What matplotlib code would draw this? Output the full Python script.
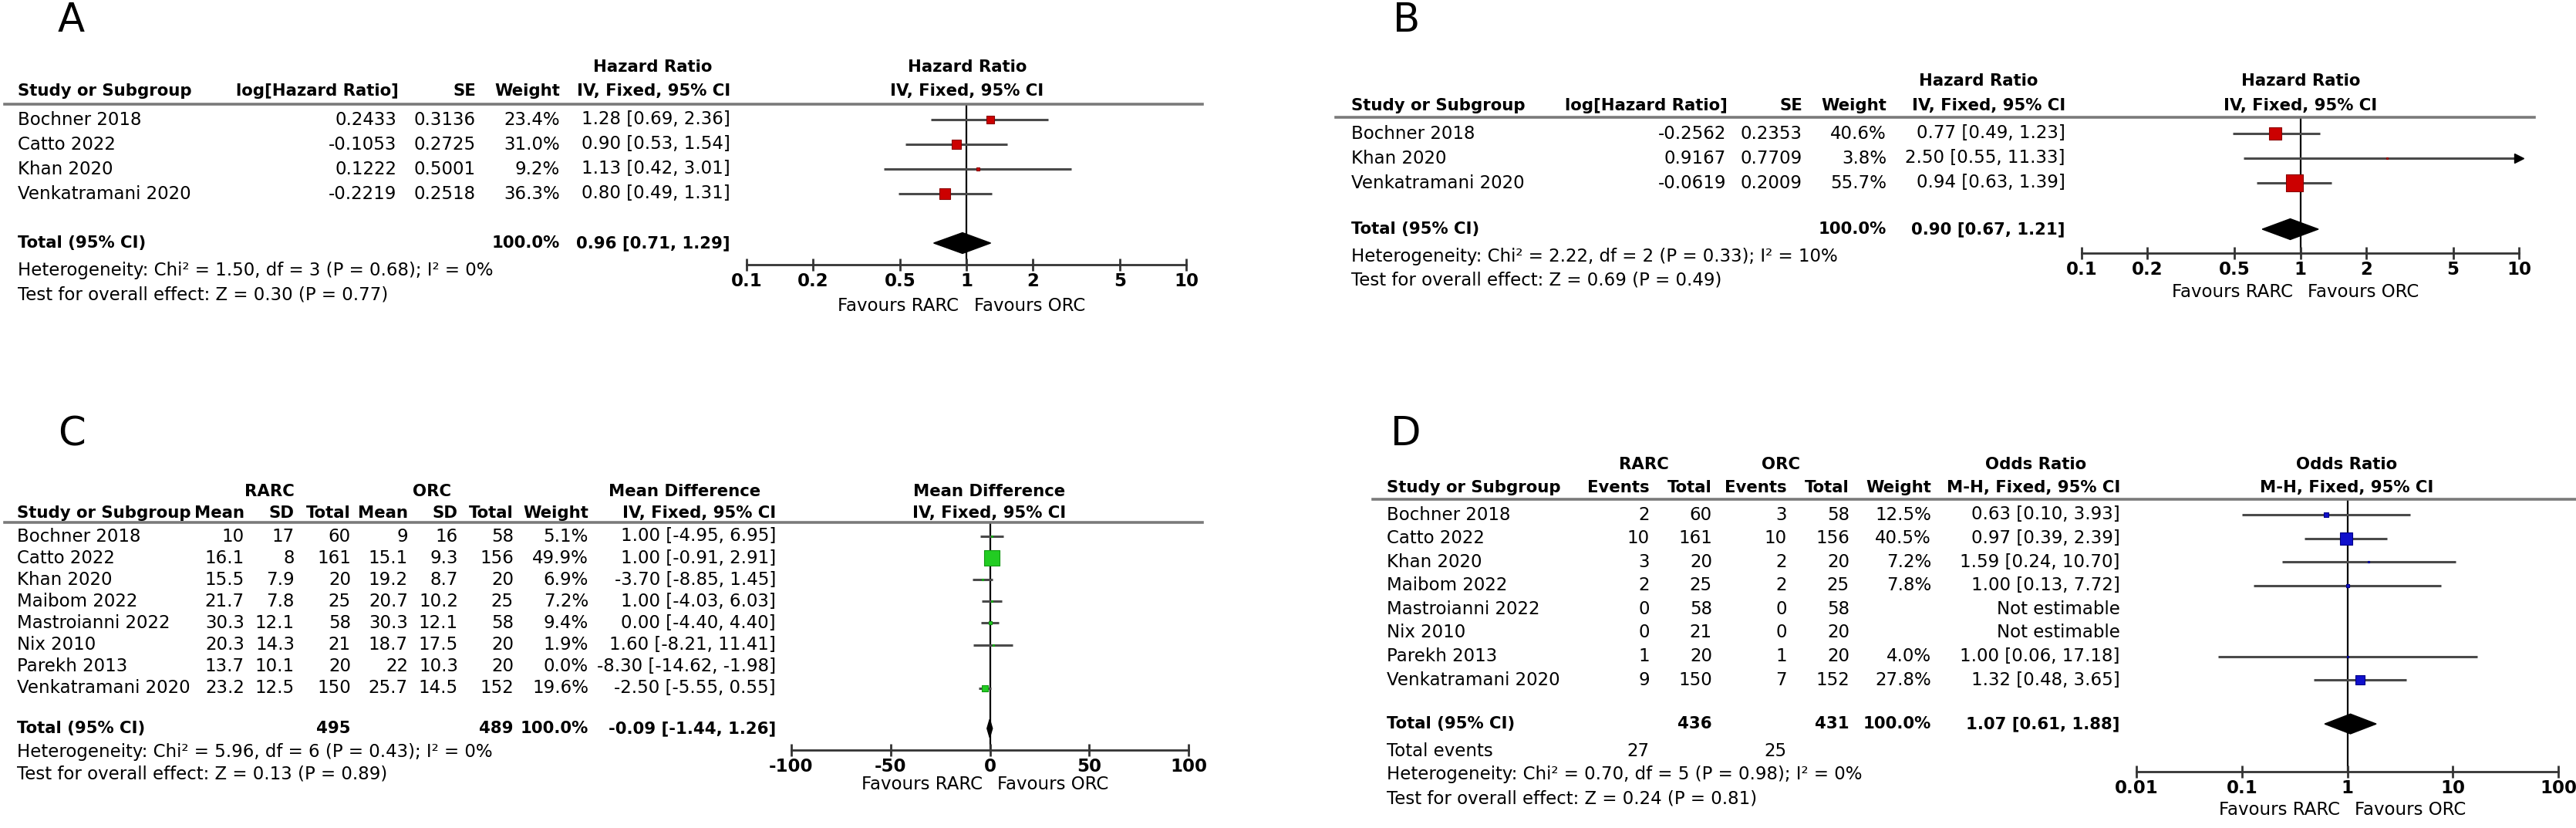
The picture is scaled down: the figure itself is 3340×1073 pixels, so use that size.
import matplotlib
matplotlib.use("Agg")
import matplotlib.pyplot as plt
from matplotlib.transforms import blended_transform_factory, offset_copy
from matplotlib.lines import Line2D
from matplotlib.ticker import NullLocator, FixedLocator

# ---------------- data ----------------
# A: hazard ratio
A_studies = ["Bochner 2018", "Catto 2022", "Khan 2020", "Venkatramani 2020"]
A_loghr = [0.2433, -0.1053, 0.1222, -0.2219]
A_se = [0.3136, 0.2725, 0.5001, 0.2518]
A_weight = [23.4, 31.0, 9.2, 36.3]
A_est = [1.28, 0.90, 1.13, 0.80]
A_lo = [0.69, 0.53, 0.42, 0.49]
A_hi = [2.36, 1.54, 3.01, 1.31]
A_total = [0.96, 0.71, 1.29]
A_het = "Heterogeneity: Chi² = 1.50, df = 3 (P = 0.68); I² = 0%"
A_test = "Test for overall effect: Z = 0.30 (P = 0.77)"

# B: hazard ratio
B_studies = ["Bochner 2018", "Khan 2020", "Venkatramani 2020"]
B_loghr = [-0.2562, 0.9167, -0.0619]
B_se = [0.2353, 0.7709, 0.2009]
B_weight = [40.6, 3.8, 55.7]
B_est = [0.77, 2.50, 0.94]
B_lo = [0.49, 0.55, 0.63]
B_hi = [1.23, 11.33, 1.39]
B_total = [0.90, 0.67, 1.21]
B_het = "Heterogeneity: Chi² = 2.22, df = 2 (P = 0.33); I² = 10%"
B_test = "Test for overall effect: Z = 0.69 (P = 0.49)"

# C: mean difference
C_studies = ["Bochner 2018", "Catto 2022", "Khan 2020", "Maibom 2022",
             "Mastroianni 2022", "Nix 2010", "Parekh 2013", "Venkatramani 2020"]
C_rarc_mean = [10, 16.1, 15.5, 21.7, 30.3, 20.3, 13.7, 23.2]
C_rarc_sd = [17, 8, 7.9, 7.8, 12.1, 14.3, 10.1, 12.5]
C_rarc_n = [60, 161, 20, 25, 58, 21, 20, 150]
C_orc_mean = [9, 15.1, 19.2, 20.7, 30.3, 18.7, 22, 25.7]
C_orc_sd = [16, 9.3, 8.7, 10.2, 12.1, 17.5, 10.3, 14.5]
C_orc_n = [58, 156, 20, 25, 58, 20, 20, 152]
C_weight = [5.1, 49.9, 6.9, 7.2, 9.4, 1.9, 0.0, 19.6]
C_est = [1.00, 1.00, -3.70, 1.00, 0.00, 1.60, -8.30, -2.50]
C_lo = [-4.95, -0.91, -8.85, -4.03, -4.40, -8.21, -14.62, -5.55]
C_hi = [6.95, 2.91, 1.45, 6.03, 4.40, 11.41, -1.98, 0.55]
C_total = [-0.09, -1.44, 1.26]
C_total_n = [495, 489]
C_het = "Heterogeneity: Chi² = 5.96, df = 6 (P = 0.43); I² = 0%"
C_test = "Test for overall effect: Z = 0.13 (P = 0.89)"

# D: odds ratio
D_studies = C_studies
D_rarc_ev = [2, 10, 3, 2, 0, 0, 1, 9]
D_rarc_n = [60, 161, 20, 25, 58, 21, 20, 150]
D_orc_ev = [3, 10, 2, 2, 0, 0, 1, 7]
D_orc_n = [58, 156, 20, 25, 58, 20, 20, 152]
D_weight = [12.5, 40.5, 7.2, 7.8, None, None, 4.0, 27.8]
D_est = [0.63, 0.97, 1.59, 1.00, None, None, 1.00, 1.32]
D_lo = [0.10, 0.39, 0.24, 0.13, None, None, 0.06, 0.48]
D_hi = [3.93, 2.39, 10.70, 7.72, None, None, 17.18, 3.65]
D_total = [1.07, 0.61, 1.88]
D_total_n = [436, 431]
D_total_ev = [27, 25]
D_het = "Heterogeneity: Chi² = 0.70, df = 5 (P = 0.98); I² = 0%"
D_test = "Test for overall effect: Z = 0.24 (P = 0.81)"

# ---------------- layout helpers ----------------
W, H = 3341, 1073
fig = plt.figure(figsize=(W / 100, H / 100), dpi=100)
FS = 16.5   # regular table text
FB = 15.3   # bold headers / totals


def make_axes(x0, x1, y_first, step, r_sep, r_axis):
    ytop = y_first + r_sep * step
    ybot = y_first + r_axis * step
    ax = fig.add_axes([x0 / W, 1 - ybot / H, (x1 - x0) / W, (ybot - ytop) / H])
    ax.set_ylim(r_axis, r_sep)
    ax.patch.set_visible(False)
    for s in ["top", "left", "right"]:
        ax.spines[s].set_visible(False)
    ax.spines["bottom"].set_linewidth(2)
    ax.spines["bottom"].set_color("#333333")
    ax.set_yticks([])
    return ax


def txt(ax, xpx, y, s, ha="left", bold=False):
    tr = blended_transform_factory(fig.transFigure, ax.transData)
    ax.text(xpx / W, y, s, transform=tr, ha=ha, va="center",
            fontsize=FB if bold else FS,
            fontweight="bold" if bold else "normal", clip_on=False)


def sep_line(ax, x0, x1, y):
    tr = blended_transform_factory(fig.transFigure, ax.transData)
    fig.add_artist(Line2D([x0 / W, x1 / W], [y, y], transform=tr,
                          color="#7a7a7a", lw=2.6))


def style_axis(ax, ticks, labels, log, null):
    if log:
        ax.set_xscale("log")
    ax.set_xlim(ticks[0], ticks[-1])
    ax.xaxis.set_major_locator(FixedLocator(ticks))
    ax.xaxis.set_minor_locator(NullLocator())
    ax.set_xticklabels(labels)
    ax.tick_params(axis="x", direction="inout", length=11, width=2,
                   color="#333333", labelsize=FS, pad=2)
    for lb in ax.get_xticklabels():
        lb.set_fontweight("bold")
    ax.axvline(null, color="black", lw=1.6, zorder=1)


def forest(ax, est, lo, hi, weight, color, edge, total, r_total, xmax):
    for i, (e, l, h, w) in enumerate(zip(est, lo, hi, weight)):
        if e is None or not w:
            continue
        hh = min(h, xmax)
        ax.plot([l, hh], [i, i], color="#4a4a4a", lw=2.2, zorder=2,
                solid_capstyle="butt")
        if h > xmax:
            ax.plot([xmax], [i], marker=">", color="black", ms=8, clip_on=False,
                    zorder=3)
        side = max(0.29 * w, 1.2)
        ax.scatter([e], [i], s=side ** 2, marker="s", c=color, edgecolors=edge,
                   linewidths=0.8, zorder=4)
    c, l, h = total
    ax.fill([l, c, h, c], [r_total, r_total - 0.42, r_total, r_total + 0.42],
            color="black", zorder=4)


def favours(ax, null, r):
    left = offset_copy(ax.transData, fig, x=-7, units="points")
    right = offset_copy(ax.transData, fig, x=7, units="points")
    ax.text(null, r, "Favours RARC", transform=left, ha="right", va="center",
            fontsize=FS, clip_on=False)
    ax.text(null, r, "Favours ORC", transform=right, ha="left", va="center",
            fontsize=FS, clip_on=False)


# ---------------- panel A ----------------
axA = make_axes(968, 1538, 155, 32, -0.625, 5.875)
style_axis(axA, [0.1, 0.2, 0.5, 1, 2, 5, 10], ["0.1", "0.2", "0.5", "1", "2", "5", "10"], True, 1)
forest(axA, A_est, A_lo, A_hi, A_weight, "#cc0000", "#8b0000", A_total, 5, 10)
sep_line(axA, 6, 1559, -0.625)
txt(axA, 846, -2.125, "Hazard Ratio", "center", True)
txt(axA, 1254, -2.125, "Hazard Ratio", "center", True)
txt(axA, 23, -1.16, "Study or Subgroup", bold=True)
txt(axA, 517, -1.16, "log[Hazard Ratio]", "right", True)
txt(axA, 617, -1.16, "SE", "right", True)
txt(axA, 726, -1.16, "Weight", "right", True)
txt(axA, 947, -1.16, "IV, Fixed, 95% CI", "right", True)
txt(axA, 1254, -1.16, "IV, Fixed, 95% CI", "center", True)
for i, s in enumerate(A_studies):
    txt(axA, 23, i, s)
    txt(axA, 514, i, f"{A_loghr[i]:.4f}", "right")
    txt(axA, 617, i, f"{A_se[i]:.4f}", "right")
    txt(axA, 726, i, f"{A_weight[i]:.1f}%", "right")
    txt(axA, 947, i, f"{A_est[i]:.2f} [{A_lo[i]:.2f}, {A_hi[i]:.2f}]", "right")
txt(axA, 23, 5, "Total (95% CI)", bold=True)
txt(axA, 726, 5, "100.0%", "right", True)
txt(axA, 947, 5, f"{A_total[0]:.2f} [{A_total[1]:.2f}, {A_total[2]:.2f}]", "right", True)
txt(axA, 23, 6.1, A_het)
txt(axA, 23, 7.1, A_test)
favours(axA, 1, 7.55)
fig.text(75 / W, 1 - 27 / H, "A", fontsize=37, va="center")

# ---------------- panel B ----------------
axB = make_axes(2699, 3266, 173, 32, -0.656, 4.84)
style_axis(axB, [0.1, 0.2, 0.5, 1, 2, 5, 10], ["0.1", "0.2", "0.5", "1", "2", "5", "10"], True, 1)
forest(axB, B_est, B_lo, B_hi, B_weight, "#cc0000", "#8b0000", B_total, 3.875, 10)
sep_line(axB, 1732, 3286, -0.656)
txt(axB, 2565, -2.125, "Hazard Ratio", "center", True)
txt(axB, 2983, -2.125, "Hazard Ratio", "center", True)
txt(axB, 1752, -1.125, "Study or Subgroup", bold=True)
txt(axB, 2240, -1.125, "log[Hazard Ratio]", "right", True)
txt(axB, 2337, -1.125, "SE", "right", True)
txt(axB, 2446, -1.125, "Weight", "right", True)
txt(axB, 2678, -1.125, "IV, Fixed, 95% CI", "right", True)
txt(axB, 2983, -1.125, "IV, Fixed, 95% CI", "center", True)
for i, s in enumerate(B_studies):
    txt(axB, 1752, i, s)
    txt(axB, 2238, i, f"{B_loghr[i]:.4f}", "right")
    txt(axB, 2337, i, f"{B_se[i]:.4f}", "right")
    txt(axB, 2446, i, f"{B_weight[i]:.1f}%", "right")
    txt(axB, 2678, i, f"{B_est[i]:.2f} [{B_lo[i]:.2f}, {B_hi[i]:.2f}]", "right")
txt(axB, 1752, 3.875, "Total (95% CI)", bold=True)
txt(axB, 2446, 3.875, "100.0%", "right", True)
txt(axB, 2678, 3.875, f"{B_total[0]:.2f} [{B_total[1]:.2f}, {B_total[2]:.2f}]", "right", True)
txt(axB, 1752, 5.0, B_het)
txt(axB, 1752, 5.94, B_test)
favours(axB, 1, 6.42)
fig.text(1806 / W, 1 - 27 / H, "B", fontsize=37, va="center")

# ---------------- panel C ----------------
axC = make_axes(1026, 1541, 695, 28.1, -0.64, 9.86)
style_axis(axC, [-100, -50, 0, 50, 100], ["-100", "-50", "0", "50", "100"], False, 0)
forest(axC, C_est, C_lo, C_hi, C_weight, "#22cc22", "#119911", C_total, 8.86, 100)
sep_line(axC, 6, 1559, -0.64)
txt(axC, 349, -2.06, "RARC", "center", True)
txt(axC, 560, -2.06, "ORC", "center", True)
txt(axC, 888, -2.06, "Mean Difference", "center", True)
txt(axC, 1283, -2.06, "Mean Difference", "center", True)
c_cols = [317, 382, 455, 529, 594, 666, 763]
for x, s in zip(c_cols, ["Mean", "SD", "Total", "Mean", "SD", "Total", "Weight"]):
    txt(axC, x, -1.07, s, "right", True)
txt(axC, 22, -1.07, "Study or Subgroup", bold=True)
txt(axC, 1006, -1.07, "IV, Fixed, 95% CI", "right", True)
txt(axC, 1283, -1.07, "IV, Fixed, 95% CI", "center", True)
for i, s in enumerate(C_studies):
    txt(axC, 22, i, s)
    vals = [f"{C_rarc_mean[i]:g}", f"{C_rarc_sd[i]:g}", f"{C_rarc_n[i]}",
            f"{C_orc_mean[i]:g}", f"{C_orc_sd[i]:g}", f"{C_orc_n[i]}",
            f"{C_weight[i]:.1f}%"]
    for x, v in zip(c_cols, vals):
        txt(axC, x, i, v, "right")
    txt(axC, 1006, i, f"{C_est[i]:.2f} [{C_lo[i]:.2f}, {C_hi[i]:.2f}]", "right")
txt(axC, 22, 8.86, "Total (95% CI)", bold=True)
txt(axC, 455, 8.86, f"{C_total_n[0]}", "right", True)
txt(axC, 666, 8.86, f"{C_total_n[1]}", "right", True)
txt(axC, 763, 8.86, "100.0%", "right", True)
txt(axC, 1006, 8.86, f"{C_total[0]:.2f} [{C_total[1]:.2f}, {C_total[2]:.2f}]", "right", True)
txt(axC, 22, 9.96, C_het)
txt(axC, 22, 10.96, C_test)
favours(axC, 0, 11.45)
fig.text(75 / W, 1 - 563 / H, "C", fontsize=37, va="center")

# ---------------- panel D ----------------
axD = make_axes(2770, 3317, 667, 30.6, -0.65, 10.88)
style_axis(axD, [0.01, 0.1, 1, 10, 100], ["0.01", "0.1", "1", "10", "100"], True, 1)
forest(axD, D_est, D_lo, D_hi, D_weight, "#1010cc", "#000088", D_total, 8.86, 100)
sep_line(axD, 1780, 3339, -0.65)
txt(axD, 2131, -2.12, "RARC", "center", True)
txt(axD, 2309, -2.12, "ORC", "center", True)
txt(axD, 2640, -2.12, "Odds Ratio", "center", True)
txt(axD, 3043, -2.12, "Odds Ratio", "center", True)
d_cols = [2139, 2220, 2317, 2398, 2504]
for x, s in zip(d_cols, ["Events", "Total", "Events", "Total", "Weight"]):
    txt(axD, x, -1.15, s, "right", True)
txt(axD, 1798, -1.15, "Study or Subgroup", bold=True)
txt(axD, 2749, -1.15, "M-H, Fixed, 95% CI", "right", True)
txt(axD, 3043, -1.15, "M-H, Fixed, 95% CI", "center", True)
for i, s in enumerate(D_studies):
    txt(axD, 1798, i, s)
    vals = [f"{D_rarc_ev[i]}", f"{D_rarc_n[i]}", f"{D_orc_ev[i]}", f"{D_orc_n[i]}"]
    for x, v in zip(d_cols[:4], vals):
        txt(axD, x, i, v, "right")
    if D_est[i] is None:
        txt(axD, 2749, i, "Not estimable", "right")
    else:
        txt(axD, 2504, i, f"{D_weight[i]:.1f}%", "right")
        txt(axD, 2749, i, f"{D_est[i]:.2f} [{D_lo[i]:.2f}, {D_hi[i]:.2f}]", "right")
txt(axD, 1798, 8.86, "Total (95% CI)", bold=True)
txt(axD, 2220, 8.86, f"{D_total_n[0]}", "right", True)
txt(axD, 2398, 8.86, f"{D_total_n[1]}", "right", True)
txt(axD, 2504, 8.86, "100.0%", "right", True)
txt(axD, 2749, 8.86, f"{D_total[0]:.2f} [{D_total[1]:.2f}, {D_total[2]:.2f}]", "right", True)
txt(axD, 1798, 10.0, "Total events")
txt(axD, 2139, 10.0, f"{D_total_ev[0]}", "right")
txt(axD, 2317, 10.0, f"{D_total_ev[1]}", "right")
txt(axD, 1798, 11.0, D_het)
txt(axD, 1798, 12.04, D_test)
favours(axD, 1, 12.5)
fig.text(1803 / W, 1 - 563 / H, "D", fontsize=37, va="center")

fig.savefig("out.png", dpi=100, facecolor="white")
